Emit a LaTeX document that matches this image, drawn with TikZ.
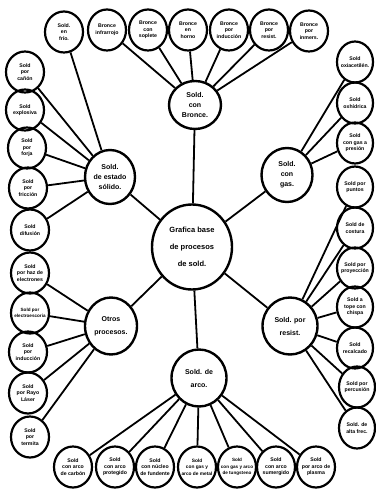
\documentclass[tikz,border=0pt]{standalone}
\usepackage{fontspec}
\setmainfont{Liberation Sans}
\usetikzlibrary{shapes.geometric}

\begin{document}
\begin{tikzpicture}[x=1pt, y=-1pt,
    leaf/.style={draw, ellipse, line width=2.2pt, minimum width=38pt, minimum height=41pt,
                 inner sep=-7pt, align=center,
                 font=\fontsize{5.2}{6.5}\selectfont\bfseries},
    hub/.style={draw, ellipse, line width=2.4pt, minimum width=52pt, minimum height=56pt,
                inner sep=-8pt, align=center,
                font=\fontsize{7}{10}\selectfont\bfseries},
    link/.style={line width=1.8pt}
]
\useasboundingbox (0,0) rectangle (375,489);
\fill[white] (0,0) rectangle (375,489);

% centro y procesos principales
\node[hub, minimum width=80pt, minimum height=85pt,
      font=\fontsize{7.5}{17}\selectfont\bfseries] (base) at (192,247) {Grafica base\\de procesos\\de sold.};
\node[hub, minimum height=48pt] (bronce) at (195,105) {Sold.\\con\\Bronce.};
\node[hub, minimum width=50pt, minimum height=54pt] (solido) at (110,177) {Sold.\\de estado\\sólido.};
\node[hub, minimum width=51pt, minimum height=54pt] (gas) at (287,175) {Sold.\\con\\gas.};
\node[hub, minimum height=57pt, font=\fontsize{7}{13}\selectfont\bfseries] (otros) at (111,326) {Otros\\procesos.};
\node[hub, minimum width=55pt, minimum height=57pt, font=\fontsize{7}{13}\selectfont\bfseries] (resist) at (290,326) {Sold. por\\resist.};
\node[hub, minimum width=55pt, minimum height=57pt, font=\fontsize{7}{13}\selectfont\bfseries] (arco) at (199,378) {Sold. de\\arco.};

% fila superior
\node[leaf] (frio) at (64,32) {Sold.\\en\\frío.};
\node[leaf] (binfra) at (107,30) {Bronce\\infrarrojo};
\node[leaf] (bsoplete) at (148,30) {Bronce\\con\\soplete};
\node[leaf] (bhorno) at (188,30) {Bronce\\en\\horno};
\node[leaf] (binduc) at (229,30) {Bronce\\por\\inducción};
\node[leaf] (bresist) at (269,30) {Bronce\\por\\resist.};
\node[leaf] (binmers) at (309,31) {Bronce\\por\\inmers.};

% columna izquierda
\node[leaf] (canon) at (25,72) {Sold\\por\\cañón};
\node[leaf] (explos) at (25,110) {Sold\\explosiva};
\node[leaf] (forja) at (27,148) {Sold\\por\\forja};
\node[leaf] (friccion) at (28,188) {Sold\\por\\fricción};
\node[leaf] (difus) at (30,230) {Sold\\difusión};
\node[leaf] (haz) at (30,273) {Sold\\por haz de\\electrones};
\node[leaf, font=\fontsize{4.6}{6.5}\selectfont\bfseries] (escoria) at (30,313) {Sold por\\electroescoria};
\node[leaf] (induc) at (28,352) {Sold\\por\\inducción};
\node[leaf] (laser) at (28,393) {Sold\\por Rayo\\Láser};
\node[leaf] (termita) at (30,437) {Sold\\por\\termita};

% columna derecha
\node[leaf, minimum width=36pt] (oxiac) at (355,62) {Sold\\oxiacetilén.};
\node[leaf, minimum width=36pt] (oxhid) at (355,103) {Sold\\oxhídrica};
\node[leaf, minimum width=36pt] (gaspres) at (355,143) {Sold\\con gas a\\presión};
\node[leaf, minimum width=36pt] (puntos) at (355,187) {Sold por\\puntos};
\node[leaf, minimum width=36pt] (costura) at (355,228) {Sold de\\costura};
\node[leaf, minimum width=36pt] (proyec) at (355,268) {Sold por\\proyección};
\node[leaf, minimum width=36pt] (tope) at (355,307) {Sold a\\tope con\\chispa};
\node[leaf, minimum width=36pt] (recalc) at (355,348) {Sold\\recalcado};
\node[leaf, minimum width=36pt] (percus) at (357,387) {Sold por\\percusión};
\node[leaf, minimum width=36pt] (altafrec) at (357,428) {Sold. de\\alta frec.};

% fila inferior
\node[leaf] (carbon) at (73,467) {Sold\\con arco\\de carbón};
\node[leaf] (proteg) at (115,467) {Sold\\con arco\\protegido};
\node[leaf] (nucleo) at (155,467) {Sold\\con núcleo\\de fundente};
\node[leaf, font=\fontsize{4.8}{6.5}\selectfont\bfseries] (metal) at (197,467) {Sold\\con gas y\\arco de metal};
\node[leaf, font=\fontsize{4.6}{6.5}\selectfont\bfseries] (tungst) at (237,467) {Sold\\con gas y arco\\de tungsteno};
\node[leaf] (sumerg) at (276,467) {Sold\\con arco\\sumergido};
\node[leaf] (plasma) at (316,467) {Sold\\por arco de\\plasma};

% conexiones
\draw[link] (base) -- (bronce);
\draw[link] (base) -- (solido);
\draw[link] (base) -- (gas);
\draw[link] (base) -- (otros);
\draw[link] (base) -- (resist);
\draw[link] (base) -- (arco);

\draw[link] (bronce) -- (binfra);
\draw[link] (bronce) -- (bsoplete);
\draw[link] (bronce) -- (bhorno);
\draw[link] (bronce) -- (binduc);
\draw[link] (bronce) -- (bresist);
\draw[link] (bronce) -- (binmers);

\draw[link] (solido) -- (frio);
\draw[link] (solido) -- (canon);
\draw[link] (solido) -- (explos);
\draw[link] (solido) -- (forja);
\draw[link] (solido) -- (friccion);
\draw[link] (solido) -- (difus);

\draw[link] (otros) -- (haz);
\draw[link] (otros) -- (escoria);
\draw[link] (otros) -- (induc);
\draw[link] (otros) -- (laser);
\draw[link] (otros) -- (termita);

\draw[link] (gas) -- (oxiac);
\draw[link] (gas) -- (oxhid);
\draw[link] (gas) -- (gaspres);

\draw[link] (resist) -- (puntos);
\draw[link] (resist) -- (costura);
\draw[link] (resist) -- (proyec);
\draw[link] (resist) -- (tope);
\draw[link] (resist) -- (recalc);
\draw[link] (resist) -- (percus);
\draw[link] (resist) -- (altafrec);

\draw[link] (arco) -- (carbon);
\draw[link] (arco) -- (proteg);
\draw[link] (arco) -- (nucleo);
\draw[link] (arco) -- (metal);
\draw[link] (arco) -- (tungst);
\draw[link] (arco) -- (sumerg);
\draw[link] (arco) -- (plasma);
\end{tikzpicture}
\end{document}
